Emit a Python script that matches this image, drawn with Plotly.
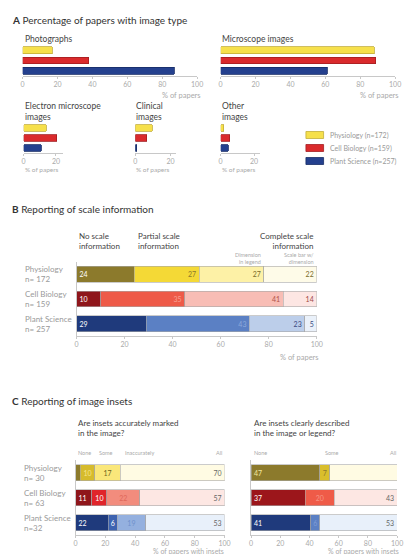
import plotly.graph_objects as go

W, H = 409, 554
FONT = "Lato"


def fx(p):
    return p / W


def fy(p):
    return 1 - p / H


# ---------------- data ----------------
groups = ["Physiology", "Cell Biology", "Plant Science"]

# Panel A: % of papers with image type
photographs = [17, 38, 87]
microscope = [88, 89, 61]
electron_microscope = [14, 20.5, 11]
clinical = [9.6, 6.5, 0.7]
other_images = [2, 5.5, 4.5]
legend_labels = ["Physiology (n=172)", "Cell Biology (n=159)", "Plant Science (n=257)"]

# Panel B: reporting of scale information
b_none = [24, 10, 29]
b_partial = [27, 35, 43]
b_dimension = [27, 41, 23]
b_scalebar = [22, 14, 5]
b_rowlabels = ["Physiology<br>n= 172", "Cell Biology<br>n= 159", "Plant Science<br>n= 257"]

# Panel C: reporting of image insets
c1_none = [3, 11, 22]
c1_some = [10, 10, 6]
c1_inacc = [17, 22, 19]
c1_all = [70, 57, 53]
c2_none = [47, 37, 41]
c2_some = [7, 20, 6]
c2_all = [47, 43, 53]
c_rowlabels = ["Physiology<br>n= 30", "Cell Biology<br>n= 63", "Plant Science<br>n=32"]

# ---------------- styles ----------------
A_COL = ["#F6E04B", "#DA2A2C", "#24408E"]
A_LINE = ["#C3AE3A", "#A31E22", "#162C66"]

B_COLS = [
    ["#8C7A2C", "#8F161B", "#1F3A7C"],
    ["#F4D936", "#EE5A48", "#5B80C4"],
    ["#FDF1A6", "#F8BDB5", "#BCCEEA"],
    ["#FEFBE8", "#FDE6E3", "#EAF1FA"],
]
B_TXT = [
    ["#FFFFFF", "#FFFFFF", "#FFFFFF"],
    ["#8C7A2C", "#F7A091", "#8DA9DB"],
    ["#7A6C2A", "#B0524A", "#3A4A80"],
    ["#7A6C2A", "#A04848", "#3A4A80"],
]
C1_COLS = [
    ["#8C7A2C", "#8F161B", "#1F3A7C"],
    ["#D6BB2C", "#E0242A", "#3E63B0"],
    ["#FAE77A", "#F28C7D", "#94B0DF"],
    ["#FFFBE3", "#FDE7E3", "#E8F0FA"],
]
C1_TXT = [
    ["#8C7A2C", "#FFFFFF", "#FFFFFF"],
    ["#F7E58A", "#FFFFFF", "#FFFFFF"],
    ["#6E6420", "#E0685A", "#6F90CC"],
    ["#666666", "#666666", "#666666"],
]
C2_COLS = [
    ["#8C7A2C", "#9C161B", "#1F3A7C"],
    ["#D9BE2C", "#EF5B48", "#5B80C4"],
    ["#FFFBE3", "#FDE7E3", "#E8F0FA"],
]
C2_TXT = [
    ["#F3E7A0", "#FFFFFF", "#FFFFFF"],
    ["#8C7A2C", "#F69685", "#7E9CD5"],
    ["#666666", "#666666", "#666666"],
]

fig = go.Figure()
layout_axes = {}


def axes(n, x0, x1, ytop, ybot, rng, tickvals, showy=False):
    xk = "xaxis" if n == 1 else f"xaxis{n}"
    yk = "yaxis" if n == 1 else f"yaxis{n}"
    layout_axes[xk] = dict(
        domain=[fx(x0), fx(x1)], range=rng, anchor=f"y{'' if n == 1 else n}",
        tickvals=tickvals, showline=True, linecolor="#c8c8c8", linewidth=1,
        ticks="outside", ticklen=2, tickcolor="#c8c8c8", showgrid=False,
        zeroline=False, tickfont=dict(size=7, color="#aaaaaa", family=FONT),
        fixedrange=True,
    )
    layout_axes[yk] = dict(
        domain=[fy(ybot), fy(ytop)], anchor=f"x{'' if n == 1 else n}",
        type="category", categoryorder="array", categoryarray=groups,
        autorange="reversed", showticklabels=False, showgrid=False,
        zeroline=False, showline=showy, linecolor="#c8c8c8", linewidth=1,
        ticks="", fixedrange=True,
    )


def ref(n):
    return ("x", "y") if n == 1 else (f"x{n}", f"y{n}")


def simple_bar(n, vals):
    xr, yr = ref(n)
    fig.add_trace(go.Bar(
        x=vals, y=groups, orientation="h", xaxis=xr, yaxis=yr, width=0.66,
        marker=dict(color=A_COL, line=dict(color=A_LINE, width=0.8)),
        showlegend=False, hoverinfo="x+y",
    ))


def stacked(n, series, cols, txts, anchors):
    xr, yr = ref(n)
    for vals, col, tc, anc in zip(series, cols, txts, anchors):
        fig.add_trace(go.Bar(
            x=vals, y=groups, orientation="h", xaxis=xr, yaxis=yr, width=0.64,
            marker=dict(color=col, line=dict(color="#a8a8a8", width=0.6)),
            text=[str(v) for v in vals], textposition="inside",
            insidetextanchor=anc, textangle=0,
            textfont=dict(size=7, color=tc, family=FONT),
            showlegend=False, hoverinfo="x+y", cliponaxis=False,
        ))


# Panel A
axes(1, 21, 199, 45, 76, [0, 100], [0, 20, 40, 60, 80, 100])
axes(2, 223, 401, 45, 76, [0, 100], [0, 20, 40, 60, 80, 100])
axes(3, 22, 62, 123, 153, [0, 24.2], [0, 20])
axes(4, 136, 177, 123, 153, [0, 22.8], [0, 20])
axes(5, 223, 263, 123, 153, [0, 23.5], [0, 20])
simple_bar(1, photographs)
simple_bar(2, microscope)
simple_bar(3, electron_microscope)
simple_bar(4, clinical)
simple_bar(5, other_images)

# Panel B
axes(6, 76, 321, 262, 336, [0, 100], [0, 20, 40, 60, 80, 100], showy=True)
stacked(6, [b_none, b_partial, b_dimension, b_scalebar], B_COLS, B_TXT,
        ["start", "end", "end", "end"])

# Panel C
axes(7, 75, 227, 460, 535, [0, 100], [0, 20, 40, 60, 80, 100], showy=True)
axes(8, 254, 403, 460, 535, [0, 100], [0, 20, 40, 60, 80, 100], showy=True)
stacked(7, [c1_none, c1_some, c1_inacc, c1_all], C1_COLS, C1_TXT,
        ["start", "middle", "middle", "end"])
stacked(8, [c2_none, c2_some, c2_all], C2_COLS, C2_TXT,
        ["start", "middle", "end"])

ann = []
shapes = []


def note(text, x, y, size=8, color="#444444", xanchor="left", align="left", yanchor="middle"):
    ann.append(dict(text=text, x=fx(x), y=fy(y), xref="paper", yref="paper",
                    xanchor=xanchor, yanchor=yanchor, align=align, showarrow=False,
                    font=dict(size=size, color=color, family=FONT)))


# titles
note("<b>A</b> Percentage of papers with image type", 8, 20, size=10, color="#333333")
note("<b>B</b> Reporting of scale information", 8, 209, size=10, color="#333333")
note("<b>C</b> Reporting of image insets", 8, 401, size=10, color="#333333")

# panel A labels
note("Photographs", 21, 39, size=8.5)
note("Microscope images", 222, 39, size=8.5)
note("Electron microscope<br>images", 21, 111.5, size=8.5)
note("Clinical<br>images", 135, 111.5, size=8.5)
note("Other<br>images", 222, 111.5, size=8.5)
note("% of papers", 205, 95, size=7.5, color="#aaaaaa", xanchor="right", align="right")
note("% of papers", 407, 95, size=7.5, color="#aaaaaa", xanchor="right", align="right")
for xx in (21, 135, 222):
    note("% of papers", xx, 169, size=6.5, color="#aaaaaa")

# legend (swatches + labels)
for i, (lab, c, lc) in enumerate(zip(legend_labels, A_COL, A_LINE)):
    yc = 135 + 13 * i
    shapes.append(dict(type="rect", xref="paper", yref="paper",
                       x0=fx(310), x1=fx(328), y0=fy(yc + 3.5), y1=fy(yc - 3.5),
                       fillcolor=c, line=dict(color=lc, width=0.8)))
    note(lab, 332, yc, size=7, color="#999999")

# panel B headers
note("No scale<br>information", 76, 241, size=8)
note("Partial scale<br>information", 137, 241, size=8)
note("Complete scale<br>information", 319, 241, size=8, xanchor="right", align="right")
note("Dimension<br>in legend", 266, 258, size=5.5, color="#aaaaaa", xanchor="right", align="right")
note("Scale bar w/<br>dimension", 320, 258, size=5.5, color="#aaaaaa", xanchor="right", align="right")
note("% of papers", 325, 357, size=7.5, color="#aaaaaa", xanchor="right", align="right")

# row labels B & C
for i, lab in enumerate(b_rowlabels):
    ann.append(dict(text=lab, x=fx(21), y=i, xref="paper", yref="y6",
                    xanchor="left", yanchor="middle", align="left", showarrow=False,
                    font=dict(size=8, color="#999999", family=FONT)))
for i, lab in enumerate(c_rowlabels):
    ann.append(dict(text=lab, x=fx(20), y=i, xref="paper", yref="y7",
                    xanchor="left", yanchor="middle", align="left", showarrow=False,
                    font=dict(size=8, color="#999999", family=FONT)))

# panel C headers
note("Are insets accurately marked<br>in the image?", 75, 427.5, size=8)
note("Are insets clearly described<br>in the image or legend?", 255, 427.5, size=8)
for t, xx in (("None", 75), ("Some", 97), ("Inaccurately", 123)):
    note(t, xx, 453, size=5.5, color="#aaaaaa")
note("All", 226, 453, size=5.5, color="#aaaaaa", xanchor="right")
note("None", 255, 453, size=5.5, color="#aaaaaa")
note("Some", 327, 453, size=5.5, color="#aaaaaa")
note("All", 404, 453, size=5.5, color="#aaaaaa", xanchor="right")
note("% of papers with insets", 228, 551, size=7, color="#aaaaaa", xanchor="right", align="right")
note("% of papers with insets", 407, 551, size=7, color="#aaaaaa", xanchor="right", align="right")

fig.update_layout(
    width=W, height=H, margin=dict(l=0, r=0, t=0, b=0),
    paper_bgcolor="white", plot_bgcolor="white",
    barmode="stack", showlegend=False,
    font=dict(family=FONT, color="#444444"),
    uniformtext=dict(minsize=7, mode="show"),
    annotations=ann, shapes=shapes,
    **layout_axes,
)

fig.write_html("out.html")
